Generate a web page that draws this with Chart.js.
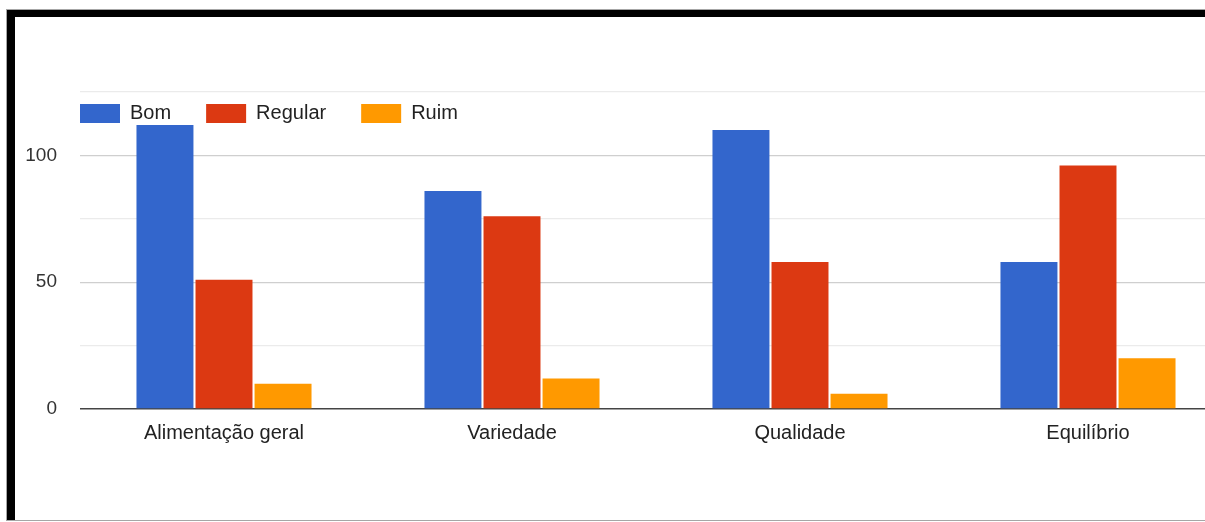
<!DOCTYPE html>
<html>
<head>
<meta charset="utf-8">
<script src="https://cdn.jsdelivr.net/npm/chart.js@4.4.1/dist/chart.umd.min.js"></script>
<style>
  html, body { margin: 0; padding: 0; background: #fff; width: 1205px; height: 522px; overflow: hidden; position: relative; }
  .edge { position: absolute; left: 6px; top: 9px; width: 1400px; height: 512px; box-sizing: border-box; border: 1px solid #a6a6a6; }
  .bar-top { position: absolute; left: 7px; top: 10px; width: 1400px; height: 7px; background: #000; }
  .bar-left { position: absolute; left: 7px; top: 10px; width: 8px; height: 510px; background: #000; }
  #chart { position: absolute; left: 15px; top: 17px; }
</style>
</head>
<body>
<div class="edge"></div>
<div class="bar-top"></div>
<div class="bar-left"></div>
<canvas id="chart" width="1230" height="503"></canvas>
<script>
// Avaliação por aspecto
const categories = ['Alimentação geral', 'Variedade', 'Qualidade', 'Equilíbrio'];
const bom = [112, 86, 110, 58];
const regular = [51, 76, 58, 96];
const ruim = [10, 12, 6, 20];
const seriesNames = ['Bom', 'Regular', 'Ruim'];
const seriesColors = ['#3366cc', '#dc3912', '#ff9900'];
const yTickValues = [0, 50, 100];

const FONT = '"Liberation Sans", Arial, sans-serif';

// The legend reserves the band above the plot; its row is then drawn
// just inside the plot, aligned with the plot's left edge
const legendInPlot = {
  id: 'legendInPlot',
  afterLayout(chart) {
    const lg = chart.legend;
    const pad = lg.options.labels.padding;
    lg.left = chart.chartArea.left - pad;
    lg.right = chart.width + 500;
    lg.top = chart.chartArea.top + 11.5 - pad;
    lg.bottom = lg.top + 120;
  }
};

new Chart(document.getElementById('chart'), {
  type: 'bar',
  data: {
    labels: categories,
    datasets: [bom, regular, ruim].map((vals, i) => ({
      label: seriesNames[i],
      data: vals,
      backgroundColor: seriesColors[i],
      borderWidth: 0,
      categoryPercentage: 0.615,
      barPercentage: 0.965
    }))
  },
  options: {
    responsive: false,
    animation: false,
    layout: { padding: { top: 10, right: 13, left: 0, bottom: 0 } },
    plugins: {
      legend: {
        position: 'top',
        align: 'start',
        labels: {
          boxWidth: 40,
          boxHeight: 19,
          padding: 35,
          color: '#222',
          font: { family: FONT, size: 20 }
        }
      },
      tooltip: { enabled: false }
    },
    scales: {
      x: {
        grid: { display: false, drawTicks: false },
        border: { display: false },
        ticks: { color: '#222', font: { family: FONT, size: 20 }, padding: 12, maxRotation: 0 },
        afterFit(scale) { scale.height = 111; }
      },
      y: {
        min: 0,
        max: 125,
        border: { display: false },
        grid: {
          drawTicks: false,
          color: c => c.tick.value === 0 ? '#444' : (c.tick.value % 50 === 0 ? '#cfcfcf' : '#ebebeb'),
          lineWidth: c => c.tick.value === 0 ? 1.6 : 1.2
        },
        ticks: {
          stepSize: 25,
          padding: 23,
          color: '#333',
          font: { family: FONT, size: 19 },
          callback: v => yTickValues.includes(v) ? String(v) : ''
        },
        afterFit(scale) { scale.width = 65; }
      }
    }
  },
  plugins: [legendInPlot]
});
</script>
</body>
</html>
